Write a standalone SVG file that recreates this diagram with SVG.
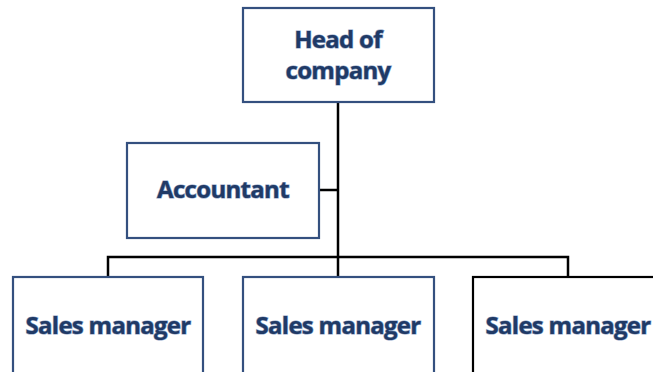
<svg xmlns="http://www.w3.org/2000/svg" width="653" height="372" viewBox="0 0 653 372">
<style>
.box{fill:#fff;stroke:#34507f;stroke-width:2.2}
.boxk{fill:#fff;stroke:#000;stroke-width:2.2}
.t{font-family:"Open Sans","Noto Sans",sans-serif;font-weight:bold;font-size:24px;fill:#203a66;stroke:#8ea3c6;stroke-width:1.2;paint-order:stroke;text-anchor:middle;letter-spacing:-0.7px}
.c{fill:none;stroke:#000;stroke-width:2.5}
</style>
<rect width="653" height="372" fill="#fff"/>
<g id="connectors">
<path class="c" d="M338 102V277"/>
<path class="c" d="M319 190H338"/>
<path class="c" d="M108 277V257H568V277"/>
</g>
<g id="head">
<rect class="box" x="243" y="8" width="191" height="94"/>
<text class="t" x="338" y="48">Head of</text>
<text class="t" x="338" y="79">company</text>
</g>
<g id="accountant">
<rect class="box" x="127" y="143" width="192" height="95"/>
<text class="t" x="223" y="198">Accountant</text>
</g>
<g id="sales1">
<rect class="box" x="13" y="277" width="190" height="110"/>
<text class="t" x="108" y="334" textLength="165" lengthAdjust="spacingAndGlyphs">Sales manager</text>
</g>
<g id="sales2">
<rect class="box" x="243" y="277" width="191" height="110"/>
<text class="t" x="338" y="334" textLength="165" lengthAdjust="spacingAndGlyphs">Sales manager</text>
</g>
<g id="sales3">
<rect class="boxk" x="473" y="277" width="200" height="110"/>
<text class="t" x="568" y="334" textLength="165" lengthAdjust="spacingAndGlyphs">Sales manager</text>
</g>
</svg>
